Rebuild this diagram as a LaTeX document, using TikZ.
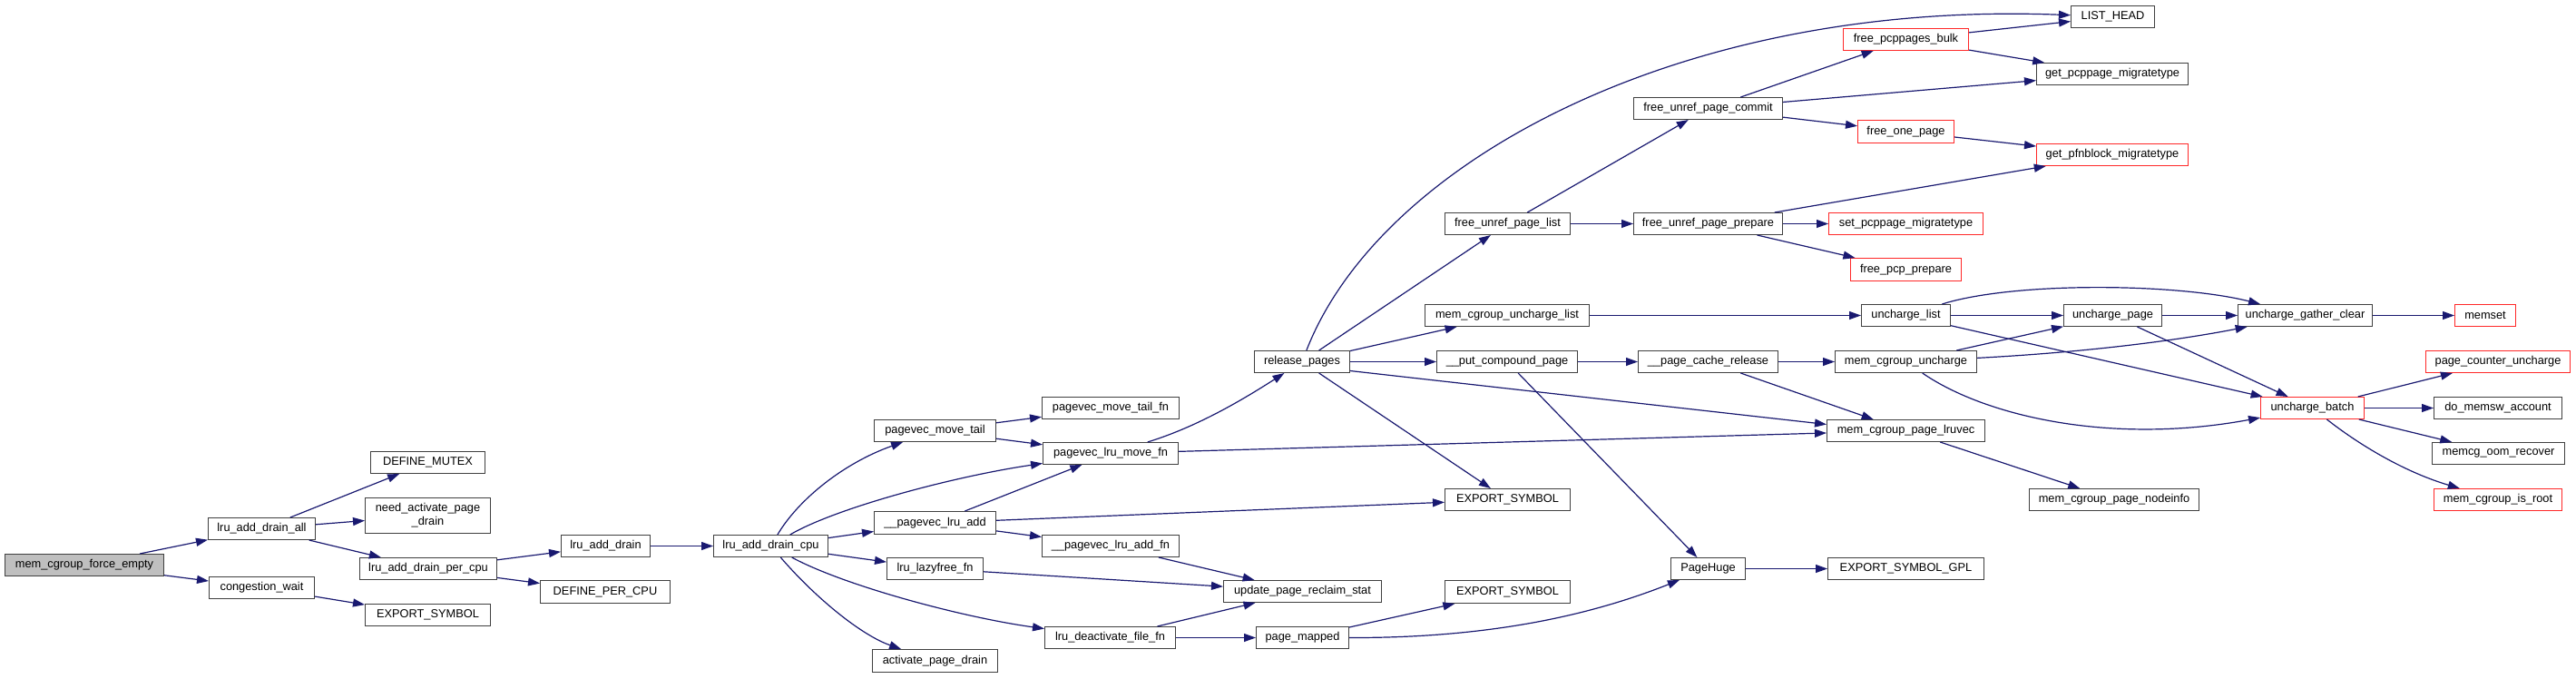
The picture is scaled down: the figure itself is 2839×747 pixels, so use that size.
\documentclass[tikz,border=0pt]{standalone}
\usepackage{fontspec}
\setmainfont{Liberation Sans}
\usetikzlibrary{arrows.meta}
\definecolor{edgec}{RGB}{25,25,112}
\definecolor{boxc}{RGB}{64,64,64}
\definecolor{redc}{RGB}{255,40,40}
\definecolor{rootc}{RGB}{191,191,191}
\tikzset{
  gbox/.style={draw=boxc, line width=1.4pt, fill=white, inner sep=0pt, align=center,
    font=\fontsize{12.8}{15}\selectfont, text=black},
  redbox/.style={draw=redc},
  rootbox/.style={fill=rootc},
  e/.style={draw=edgec, line width=1.2pt, -{Triangle[length=13pt,width=9pt]}}
}
\newcommand{\gn}[7][]{%
  \pgfmathsetmacro\gnw{#5-#3-1.4}\pgfmathsetmacro\gnh{#6-#4-1.4}%
  \pgfmathsetmacro\gnx{(#3+#5)/2}\pgfmathsetmacro\gny{(#4+#6)/2}%
  \node[gbox,#1,minimum width=\gnw pt,minimum height=\gnh pt] (#2) at (\gnx,\gny) {#7};}
\begin{document}
\begin{tikzpicture}[x=1pt,y=-1pt]
\useasboundingbox (0,0) rectangle (2839,747);
\gn[rootbox]{force}{5}{610}{181}{635}{mem\_cgroup\_force\_empty}
\gn{ladall}{229}{570}{348}{595}{lru\_add\_drain\_all}
\gn{congw}{230}{635}{347}{660}{congestion\_wait}
\gn{defmutex}{408}{497}{535}{522}{DEFINE\_MUTEX}
\gn{needact}{402}{548}{541}{588}{need\_activate\_page\\\_drain}
\gn{ladpc}{396}{614}{548}{639}{lru\_add\_drain\_per\_cpu}
\gn{exp1}{402}{665}{541}{690}{EXPORT\_SYMBOL}
\gn{lad}{618}{589}{717}{614}{lru\_add\_drain}
\gn{defpcpu}{595}{639}{739}{665}{DEFINE\_PER\_CPU}
\gn{ladcpu}{786}{589}{913}{614}{lru\_add\_drain\_cpu}
\gn{pmt}{963}{462}{1098}{487}{pagevec\_move\_tail}
\gn{pla}{963}{563}{1098}{589}{\_\_pagevec\_lru\_add}
\gn{llf}{977}{614}{1084}{639}{lru\_lazyfree\_fn}
\gn{apd}{961}{715}{1100}{741}{activate\_page\_drain}
\gn{pmtfn}{1148}{437}{1300}{462}{pagevec\_move\_tail\_fn}
\gn{plmf}{1149}{487}{1299}{512}{pagevec\_lru\_move\_fn}
\gn{plafn}{1148}{589}{1300}{614}{\_\_pagevec\_lru\_add\_fn}
\gn{ldff}{1151}{690}{1296}{715}{lru\_deactivate\_file\_fn}
\gn{rp}{1382}{386}{1488}{411}{release\_pages}
\gn{uprs}{1348}{639}{1523}{664}{update\_page\_reclaim\_stat}
\gn{pm}{1384}{690}{1487}{715}{page\_mapped}
\gn{fupl}{1592}{234}{1731}{259}{free\_unref\_page\_list}
\gn{mcul}{1570}{335}{1752}{360}{mem\_cgroup\_uncharge\_list}
\gn{pcp}{1583}{386}{1739}{411}{\_\_put\_compound\_page}
\gn{exp2}{1592}{538}{1731}{563}{EXPORT\_SYMBOL}
\gn{exp3}{1592}{639}{1731}{665}{EXPORT\_SYMBOL}
\gn{fupc}{1800}{107}{1965}{132}{free\_unref\_page\_commit}
\gn{fupp}{1800}{234}{1965}{259}{free\_unref\_page\_prepare}
\gn{pcr}{1805}{386}{1960}{411}{\_\_page\_cache\_release}
\gn{ph}{1841}{614}{1924}{639}{PageHuge}
\gn[redbox]{fpb}{2031}{31}{2170}{56}{free\_pcppages\_bulk}
\gn[redbox]{fop}{2047}{132}{2154}{158}{free\_one\_page}
\gn[redbox]{spm}{2015}{234}{2186}{259}{set\_pcppage\_migratetype}
\gn[redbox]{fpp}{2039}{284}{2162}{310}{free\_pcp\_prepare}
\gn{ul}{2051}{335}{2150}{360}{uncharge\_list}
\gn{mcu}{2022}{386}{2179}{411}{mem\_cgroup\_uncharge}
\gn{mcpl}{2013}{462}{2188}{487}{mem\_cgroup\_page\_lruvec}
\gn{esg}{2014}{614}{2187}{639}{EXPORT\_SYMBOL\_GPL}
\gn{lh}{2282}{6}{2375}{31}{LIST\_HEAD}
\gn{gpm}{2244}{69}{2412}{94}{get\_pcppage\_migratetype}
\gn[redbox]{gpbm}{2244}{158}{2412}{183}{get\_pfnblock\_migratetype}
\gn{up}{2274}{335}{2383}{360}{uncharge\_page}
\gn{mcpn}{2236}{538}{2424}{563}{mem\_cgroup\_page\_nodeinfo}
\gn{ugc}{2466}{335}{2615}{360}{uncharge\_gather\_clear}
\gn[redbox]{ub}{2491}{437}{2606}{462}{uncharge\_batch}
\gn[redbox]{memset}{2705}{335}{2773}{360}{memset}
\gn[redbox]{pcu}{2673}{386}{2833}{411}{page\_counter\_uncharge}
\gn{dma}{2682}{437}{2824}{462}{do\_memsw\_account}
\gn{mor}{2680}{487}{2827}{512}{memcg\_oom\_recover}
\gn[redbox]{mcir}{2682}{538}{2824}{563}{mem\_cgroup\_is\_root}

\draw[e] (force) -- (ladall);
\draw[e] (force) -- (congw);
\draw[e] (ladall) -- (defmutex);
\draw[e] (ladall) -- (needact);
\draw[e] (ladall) -- (ladpc);
\draw[e] (congw) -- (exp1);
\draw[e] (ladpc) -- (lad);
\draw[e] (ladpc) -- (defpcpu);
\draw[e] (lad) -- (ladcpu);
\draw[e] (ladcpu) .. controls (880,550) and (930,510) .. (pmt);
\draw[e] (ladcpu) .. controls (920,560) and (1050,525) .. (plmf);
\draw[e] (ladcpu) -- (pla);
\draw[e] (ladcpu) -- (llf);
\draw[e] (ladcpu) .. controls (930,645) and (1060,680) .. (ldff);
\draw[e] (ladcpu) .. controls (900,660) and (950,700) .. (apd);
\draw[e] (pmt) -- (pmtfn);
\draw[e] (pmt) -- (plmf);
\draw[e] (plmf) .. controls (1320,470) and (1370,440) .. (rp);
\draw[e] (plmf) -- (mcpl);
\draw[e] (pla) -- (plmf);
\draw[e] (pla) -- (exp2);
\draw[e] (pla) -- (plafn);
\draw[e] (plafn) -- (uprs);
\draw[e] (llf) -- (uprs);
\draw[e] (ldff) -- (uprs);
\draw[e] (ldff) -- (pm);
\draw[e] (pm) -- (exp3);
\draw[e] (pm.east) .. controls (1650,703) and (1760,675) .. (ph);
\draw[e] (rp) .. controls (1520,180) and (1850,0) .. (lh);
\draw[e] (rp) -- (fupl);
\draw[e] (rp) -- (mcul);
\draw[e] (rp) -- (pcp);
\draw[e] (rp) -- (exp2);
\draw[e] ([yshift=-10pt]rp.east) -- ([yshift=7pt]mcpl.west);
\draw[e] (fupl) -- (fupc);
\draw[e] (fupl) -- (fupp);
\draw[e] (fupc) -- (fpb);
\draw[e] (fupc) -- (gpm);
\draw[e] (fupc) -- (fop);
\draw[e] (fpb) -- (lh);
\draw[e] (fpb) -- (gpm);
\draw[e] (fop) -- (gpbm);
\draw[e] (fupp) -- (gpbm);
\draw[e] (fupp) -- (spm);
\draw[e] (fupp) -- (fpp);
\draw[e] (mcul) -- (ul);
\draw[e] (ul) .. controls (2220,310) and (2400,312) .. (ugc);
\draw[e] (ul) -- (up);
\draw[e] (ul) -- (ub);
\draw[e] (up) -- (ugc);
\draw[e] (up) -- (ub);
\draw[e] (pcp) -- (pcr);
\draw[e] (pcp) -- (ph);
\draw[e] (pcr) -- (mcu);
\draw[e] (pcr) -- (mcpl);
\draw[e] (mcu) -- (up);
\draw[e] (mcu) .. controls (2300,388) and (2400,375) .. (ugc);
\draw[e] (mcu) .. controls (2190,460) and (2330,490) .. (ub);
\draw[e] (mcpl) -- (mcpn);
\draw[e] (ph) -- (esg);
\draw[e] (ugc) -- (memset);
\draw[e] (ub) -- (pcu);
\draw[e] (ub) -- (dma);
\draw[e] (ub) -- (mor);
\draw[e] (ub) .. controls (2600,490) and (2650,520) .. (mcir);
\end{tikzpicture}
\end{document}
